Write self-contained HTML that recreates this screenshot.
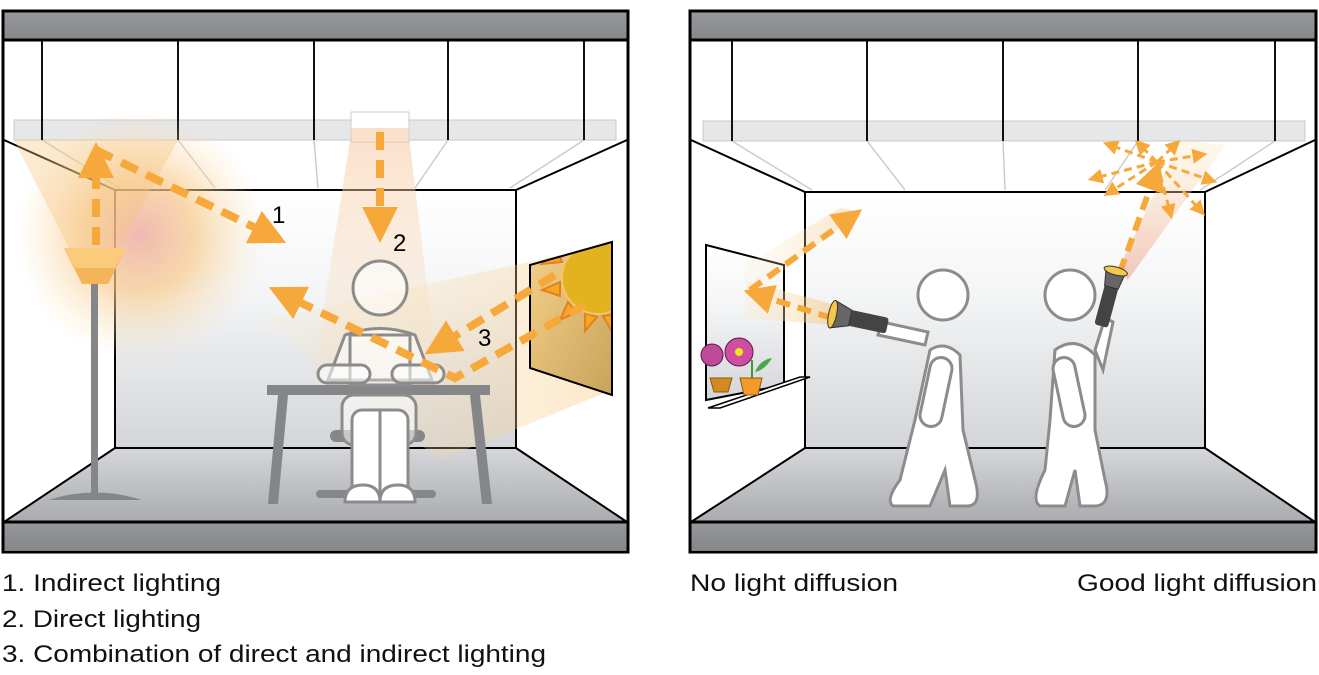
<!DOCTYPE html>
<html><head><meta charset="utf-8"><style>
body{margin:0;background:#fff;width:1319px;height:675px;overflow:hidden}
svg{display:block}
text{font-family:"Liberation Sans",sans-serif}
</style></head><body>
<svg width="1319" height="675" viewBox="0 0 1319 675" xmlns="http://www.w3.org/2000/svg">
<defs>
<linearGradient id="wall" x1="0" y1="0" x2="0" y2="1"><stop offset="0" stop-color="#fff"/><stop offset="0.4" stop-color="#f4f5f6"/><stop offset="1" stop-color="#d3d5d8"/></linearGradient>
<linearGradient id="floor" x1="0" y1="0" x2="0" y2="1"><stop offset="0" stop-color="#d6d7da"/><stop offset="1" stop-color="#a9abae"/></linearGradient>
<linearGradient id="bar" x1="0" y1="0" x2="0" y2="1"><stop offset="0" stop-color="#96989c"/><stop offset="1" stop-color="#85878b"/></linearGradient>
<radialGradient id="glow" cx="0.5" cy="0.5" r="0.5"><stop offset="0" stop-color="#eea8a0" stop-opacity=".8"/><stop offset="0.45" stop-color="#f7c98a" stop-opacity=".7"/><stop offset="1" stop-color="#fbe3b8" stop-opacity="0"/></radialGradient>
<linearGradient id="beamD" x1="0" y1="0" x2="0" y2="1"><stop offset="0" stop-color="#f6c7a0" stop-opacity=".8"/><stop offset="1" stop-color="#fde7c0" stop-opacity=".2"/></linearGradient>
<linearGradient id="beamS" x1="1" y1="0" x2="0" y2="0"><stop offset="0" stop-color="#f7c57a" stop-opacity=".8"/><stop offset="1" stop-color="#fde7c0" stop-opacity=".3"/></linearGradient>
<linearGradient id="sunwin" x1="0" y1="0" x2="1" y2="1"><stop offset="0" stop-color="#f3d08a"/><stop offset="1" stop-color="#c9a35a"/></linearGradient>
<linearGradient id="fl" x1="0" y1="1" x2="0" y2="0"><stop offset="0" stop-color="#eeaa9a" stop-opacity=".8"/><stop offset="1" stop-color="#fde2b0" stop-opacity=".3"/></linearGradient>
<clipPath id="winclip"><polygon points="530,265 612,242 612,395 530,368"/></clipPath>
<marker id="ah" viewBox="0 0 10 10" refX="5" refY="5" markerWidth="4.5" markerHeight="4.5" orient="auto"><path d="M0,0L10,5L0,10z" fill="#f7a83a"/></marker>
<marker id="ahs" viewBox="0 0 10 10" refX="5" refY="5" markerWidth="5" markerHeight="5" orient="auto"><path d="M0,0L10,5L0,10z" fill="#f7a83a"/></marker>
</defs>

<!-- LEFT PANEL -->
<g>
<rect x="4" y="12" width="623" height="540" fill="#fff"/>
<rect x="115" y="190" width="401" height="258" fill="url(#wall)"/>
<polygon points="4,522 115,448 516,448 627,522" fill="url(#floor)"/>
<g stroke="#000" stroke-width="2" fill="none">
<rect x="115" y="190" width="401" height="258"/>
<line x1="4" y1="140" x2="115" y2="190"/><line x1="627" y1="140" x2="516" y2="190"/>
<line x1="4" y1="522" x2="115" y2="448"/><line x1="627" y1="522" x2="516" y2="448"/>
</g>
<rect x="14" y="120" width="602" height="20" fill="#e6e7e9" stroke="#c8c9cb"/>
<g stroke="#ccc" stroke-width="1.5"><line x1="42" y1="140" x2="120" y2="188"/><line x1="178" y1="140" x2="215" y2="188"/><line x1="314" y1="140" x2="318" y2="188"/><line x1="448" y1="140" x2="415" y2="188"/><line x1="584" y1="140" x2="510" y2="188"/></g>
<g stroke="#111" stroke-width="2"><line x1="42" y1="40" x2="42" y2="140"/><line x1="178" y1="40" x2="178" y2="140"/><line x1="314" y1="40" x2="314" y2="140"/><line x1="448" y1="40" x2="448" y2="140"/><line x1="584" y1="40" x2="584" y2="140"/></g>
<rect x="351" y="112" width="58" height="30" fill="#fff" stroke="#ccc"/>
<circle cx="140" cy="235" r="125" fill="url(#glow)"/>
<polygon points="14,140 178,140 118,250 70,250" fill="#f7c27a" opacity=".35"/>
<polygon points="352,128 408,128 440,395 310,395" fill="url(#beamD)" opacity=".7"/>
<polygon points="265,320 560,255 612,390 440,460" fill="url(#beamS)" opacity=".5"/>
<polygon points="530,265 612,242 612,395 530,368" fill="url(#sunwin)"/>
<g clip-path="url(#winclip)">
<g fill="#f5a623" stroke="#e4801e" stroke-width="2">
<path d="M562,262 l-20,2 16,-14z M560,282 l-18,8 18,6z M568,302 l-8,18 16,-8z M585,313 l0,18 12,-14z M603,316 l8,14 4,-16z"/>
</g>
<circle cx="598" cy="278" r="36" fill="#e2b21f" stroke="#f1c66a" stroke-width="2"/>
</g>
<polygon points="530,265 612,242 612,395 530,368" fill="none" stroke="#000" stroke-width="2"/>
<polygon points="64,248 126,248 108,284 82,284" fill="#f3b45a"/>
<polygon points="64,248 126,248 115,268 75,268" fill="#f9cb7a"/>
<rect x="91" y="284" width="7" height="210" fill="#858688"/>
<path d="M48,500 Q95,485 142,500 Z" fill="#858688"/>
<rect x="316" y="490" width="120" height="8" rx="4" fill="#858688"/>
<rect x="330" y="430" width="95" height="12" rx="6" fill="#858688"/>
<rect x="267" y="385" width="223" height="10" fill="#858688"/>
<polygon points="278,395 288,395 278,504 268,504" fill="#858688"/>
<polygon points="470,395 480,395 492,504 482,504" fill="#858688"/>
<g stroke="#8c8c8c" stroke-width="3" fill="#fff" fill-opacity=".55">
<circle cx="380" cy="288" r="27"/>
<path d="M345,335 Q380,322 415,335 L432,380 L328,380 Z"/>
<rect x="342" y="395" width="74" height="50" rx="12"/>
<rect x="352" y="410" width="56" height="92" rx="10" fill="#fff" fill-opacity="1"/>
<line x1="380" y1="410" x2="380" y2="502"/>
<path d="M345,502 Q345,485 363,485 Q380,485 380,502 Z M380,502 Q380,485 398,485 Q415,485 415,502 Z" fill="#fff" fill-opacity="1"/>
<rect x="350" y="335" width="60" height="50" fill-opacity=".3"/>
<rect x="318" y="365" width="52" height="18" rx="9"/>
<rect x="392" y="365" width="52" height="18" rx="9"/>
</g>
<g stroke="#f7a83a" stroke-width="8" stroke-dasharray="18,10" fill="none">
<line x1="96" y1="245" x2="96" y2="160" marker-end="url(#ah)"/>
<line x1="96" y1="150" x2="270" y2="235" marker-end="url(#ah)"/>
<line x1="380" y1="132" x2="380" y2="225" marker-end="url(#ah)"/>
<line x1="555" y1="275" x2="440" y2="345" marker-end="url(#ah)"/>
<polyline points="585,305 455,378 285,295" marker-end="url(#ah)"/>
</g>
<text x="272" y="223" font-size="24">1</text>
<text x="393" y="251" font-size="24">2</text>
<text x="478" y="346" font-size="24">3</text>
<rect x="4" y="12" width="623" height="28" fill="url(#bar)"/>
<rect x="4" y="522" width="623" height="28" fill="url(#bar)"/>
<g stroke="#000" stroke-width="3" fill="none"><rect x="3" y="11" width="625" height="541"/><line x1="3" y1="40" x2="628" y2="40"/><line x1="3" y1="522" x2="628" y2="522"/></g>
</g>

<!-- RIGHT PANEL -->
<g>
<rect x="691" y="12" width="624" height="540" fill="#fff"/>
<rect x="805" y="192" width="400" height="256" fill="url(#wall)"/>
<polygon points="691,522 805,448 1205,448 1315,522" fill="url(#floor)"/>
<g stroke="#000" stroke-width="2" fill="none">
<rect x="805" y="192" width="400" height="256"/>
<line x1="691" y1="140" x2="805" y2="192"/><line x1="1315" y1="140" x2="1205" y2="192"/>
<line x1="691" y1="522" x2="805" y2="448"/><line x1="1315" y1="522" x2="1205" y2="448"/>
</g>
<rect x="703" y="121" width="602" height="20" fill="#e6e7e9" stroke="#c8c9cb"/>
<g stroke="#ccc" stroke-width="1.5"><line x1="732" y1="141" x2="812" y2="190"/><line x1="867" y1="141" x2="905" y2="190"/><line x1="1003" y1="141" x2="1005" y2="190"/><line x1="1138" y1="141" x2="1105" y2="190"/><line x1="1275" y1="141" x2="1200" y2="190"/></g>
<g stroke="#111" stroke-width="2"><line x1="732" y1="40" x2="732" y2="141"/><line x1="867" y1="40" x2="867" y2="141"/><line x1="1003" y1="40" x2="1003" y2="141"/><line x1="1138" y1="40" x2="1138" y2="141"/><line x1="1275" y1="40" x2="1275" y2="141"/></g>
<polygon points="706,245 784,265 784,385 706,400" fill="url(#wall)" stroke="#000" stroke-width="2"/>
<polygon points="708,408 800,377 810,377 720,408" fill="#fff" stroke="#000" stroke-width="1.5"/>
<polygon points="710,378 732,378 728,392 714,392" fill="#d38a20" stroke="#8a5a10"/>
<polygon points="740,378 762,378 758,395 744,395" fill="#f39a2a" stroke="#8a5a10"/>
<line x1="752" y1="378" x2="752" y2="360" stroke="#3a9a3a" stroke-width="2"/>
<circle cx="712" cy="355" r="11" fill="#c04a9a" stroke="#5a1a4a"/>
<circle cx="739" cy="352" r="14" fill="#d04ea0" stroke="#5a1a4a"/>
<circle cx="739" cy="352" r="4" fill="#f5e020"/>
<path d="M755,372 Q760,360 772,358 Q765,370 755,372Z" fill="#4aaa4a"/>
<polygon points="835,305 835,325 745,318 745,280" fill="url(#beamS)" opacity=".7"/>
<polygon points="745,265 745,300 860,212 840,208" fill="url(#beamS)" opacity=".5"/>
<polygon points="1118,270 1128,280 1225,145 1180,140" fill="url(#fl)" opacity=".8"/>
<g stroke="#f7a83a" stroke-width="6" stroke-dasharray="14,8" fill="none">
<line x1="832" y1="318" x2="758" y2="295" marker-end="url(#ahs)"/>
<line x1="750" y1="290" x2="850" y2="218" marker-end="url(#ahs)"/>
<line x1="1120" y1="272" x2="1155" y2="175" marker-end="url(#ahs)"/>
</g>
<g stroke="#f7a83a" stroke-width="3" stroke-dasharray="8,5" fill="none">
<line x1="1157" y1="162" x2="1110" y2="145" marker-end="url(#ahs)"/>
<line x1="1157" y1="162" x2="1140" y2="145" marker-end="url(#ahs)"/>
<line x1="1157" y1="162" x2="1175" y2="145" marker-end="url(#ahs)"/>
<line x1="1157" y1="162" x2="1200" y2="155" marker-end="url(#ahs)"/>
<line x1="1157" y1="162" x2="1210" y2="180" marker-end="url(#ahs)"/>
<line x1="1157" y1="162" x2="1200" y2="210" marker-end="url(#ahs)"/>
<line x1="1157" y1="162" x2="1170" y2="212" marker-end="url(#ahs)"/>
<line x1="1157" y1="162" x2="1095" y2="178" marker-end="url(#ahs)"/>
<line x1="1157" y1="162" x2="1110" y2="192" marker-end="url(#ahs)"/>
</g>
<g stroke="#8c8c8c" stroke-width="3" fill="#fff">
<path d="M878,335 L925,345 L928,332 L882,322 Z"/>
<path d="M930,350 Q945,340 960,355 L963,430 L975,480 Q982,505 968,506 L950,506 L945,470 L930,506 L893,506 Q885,500 900,480 L915,420 Z"/>
<circle cx="943" cy="295" r="25"/>
<rect x="925" y="357" width="22" height="70" rx="11" transform="rotate(12 936 392)"/>
<path d="M1095,350 L1105,318 L1113,322 L1103,370 Z"/>
<path d="M1055,350 Q1075,335 1095,355 L1095,430 L1105,480 Q1112,505 1095,506 L1080,506 L1075,470 L1065,506 L1040,506 Q1030,500 1045,470 L1050,420 Z"/>
<circle cx="1070" cy="295" r="25"/>
<rect x="1058" y="357" width="22" height="70" rx="11" transform="rotate(-12 1069 392)"/>
</g>
<g transform="rotate(12 860 320)"><rect x="848" y="312" width="40" height="16" rx="3" fill="#444"/><path d="M832,306 L850,312 L850,328 L832,334 Z" fill="#666" stroke="#333"/><ellipse cx="832" cy="320" rx="4" ry="14" fill="#f5c84a" stroke="#333"/></g>
<g transform="rotate(15 1108 300)"><rect x="1101" y="285" width="14" height="42" rx="3" fill="#444"/><path d="M1098,270 L1118,270 L1115,287 L1101,287 Z" fill="#666" stroke="#333"/><ellipse cx="1108" cy="270" rx="12" ry="4" fill="#f5c84a" stroke="#333"/></g>
<rect x="691" y="12" width="624" height="28" fill="url(#bar)"/>
<rect x="691" y="522" width="624" height="28" fill="url(#bar)"/>
<g stroke="#000" stroke-width="3" fill="none"><rect x="690" y="11" width="626" height="541"/><line x1="690" y1="40" x2="1316" y2="40"/><line x1="690" y1="522" x2="1316" y2="522"/></g>
</g>

<g font-size="24" fill="#111">
<text x="2" y="591" textLength="219" lengthAdjust="spacingAndGlyphs">1. Indirect lighting</text>
<text x="2" y="627" textLength="199" lengthAdjust="spacingAndGlyphs">2. Direct lighting</text>
<text x="2" y="662" textLength="544" lengthAdjust="spacingAndGlyphs">3. Combination of direct and indirect lighting</text>
<text x="690" y="591" textLength="208" lengthAdjust="spacingAndGlyphs">No light diffusion</text>
<text x="1077" y="591" textLength="240" lengthAdjust="spacingAndGlyphs">Good light diffusion</text>
</g>
</svg>
</body></html>
